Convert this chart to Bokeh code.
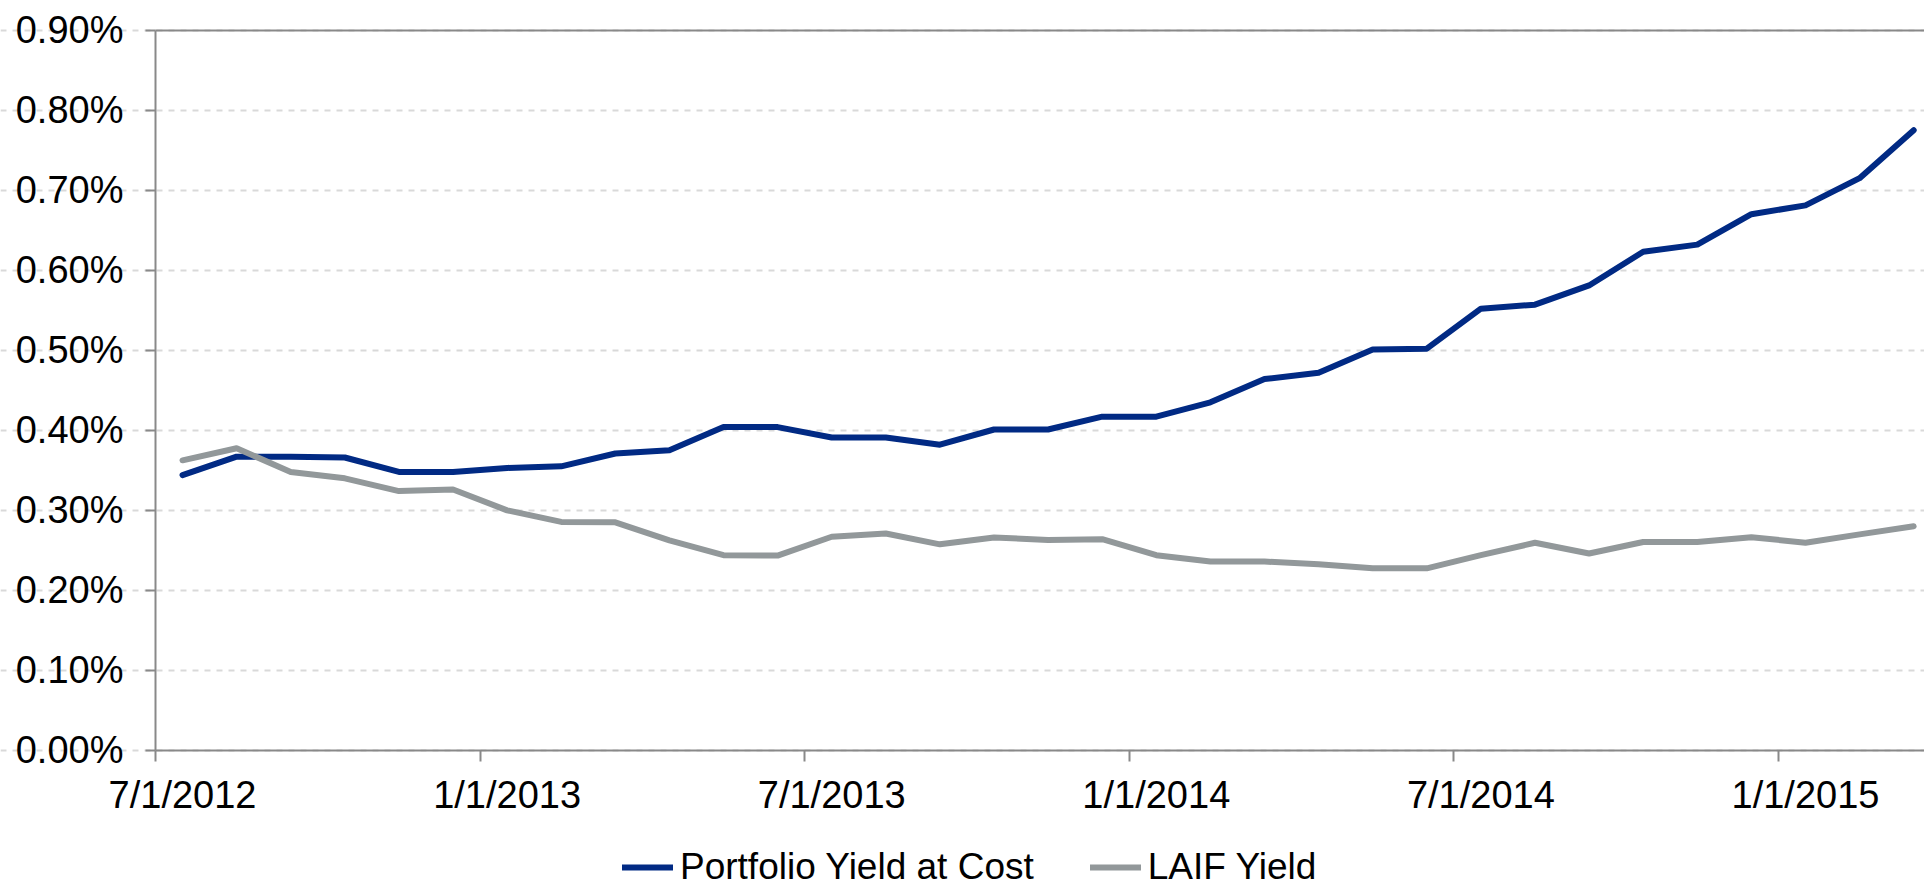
from bokeh.plotting import figure
from bokeh.models import (Range1d, FixedTicker, PrintfTickFormatter, LinearAxis,
                          Legend, LegendItem, ColumnDataSource)
from bokeh.embed import file_html
from bokeh.resources import INLINE

# ---- data (monthly, Jul 2012 .. Mar 2015), yields in percent ----
months = ["2012-07", "2012-08", "2012-09", "2012-10", "2012-11", "2012-12",
          "2013-01", "2013-02", "2013-03", "2013-04", "2013-05", "2013-06",
          "2013-07", "2013-08", "2013-09", "2013-10", "2013-11", "2013-12",
          "2014-01", "2014-02", "2014-03", "2014-04", "2014-05", "2014-06",
          "2014-07", "2014-08", "2014-09", "2014-10", "2014-11", "2014-12",
          "2015-01", "2015-02", "2015-03"]

portfolio_yield = [0.344, 0.367, 0.367, 0.366, 0.348, 0.348, 0.353, 0.355, 0.371,
                   0.375, 0.404, 0.404, 0.391, 0.391, 0.382, 0.401, 0.401, 0.417,
                   0.417, 0.435, 0.464, 0.472, 0.501, 0.502, 0.552, 0.557, 0.581,
                   0.623, 0.632, 0.670, 0.681, 0.715, 0.775]

laif_yield = [0.3625, 0.3775, 0.348, 0.340, 0.324, 0.326, 0.300, 0.2855, 0.285,
              0.2625, 0.244, 0.2435, 0.267, 0.271, 0.2575, 0.266, 0.263, 0.264,
              0.244, 0.236, 0.236, 0.2325, 0.2275, 0.2275, 0.244, 0.2595, 0.246,
              0.2605, 0.2605, 0.2665, 0.2595, 0.270, 0.280]

tick_months = ["2012-07", "2013-01", "2013-07", "2014-01", "2014-07", "2015-01"]
tick_labels = ["7/1/2012", "1/1/2013", "7/1/2013", "1/1/2014", "7/1/2014", "1/1/2015"]

y_ticks = [0.0, 0.1, 0.2, 0.3, 0.4, 0.5, 0.6, 0.7, 0.8, 0.9]

# ---- styling ----
BLUE = "#012A84"
GRAY = "#92989A"
AXIS = "#898989"
FONT = "Liberation Sans"
FS = "38px"

X_END = 32.70          # right edge of the plot area, in month slots
Y_TOP = 0.9            # top of the plot area (percent)

# month slots: a month's value sits at the middle of its slot
x_vals = [i + 0.5 for i in range(len(months))]
src = ColumnDataSource(dict(x=x_vals, port=portfolio_yield, laif=laif_yield))

# the frame covers the whole canvas; the axes are pinned at x = 0 and y = 0 so
# that their labels and the legend are drawn inside the frame
p = figure(width=1924, height=887, output_backend="svg", toolbar_location=None,
           x_range=Range1d(-2.865, X_END), y_range=Range1d(-0.17125, 0.937),
           min_border_left=0, min_border_right=0, min_border_top=0,
           min_border_bottom=0)
p.outline_line_color = None
p.background_fill_color = "white"
p.border_fill_color = "white"

r1 = p.line("x", "port", source=src, line_color=BLUE, line_width=6,
            line_join="round", line_cap="round")
r2 = p.line("x", "laif", source=src, line_color=GRAY, line_width=6,
            line_join="round", line_cap="round")

xa = p.xaxis[0]
ya = p.yaxis[0]

# x axis: tick marks at the start of each labelled month's slot ...
xt = [months.index(m) for m in tick_months]
xa.fixed_location = 0
xa.bounds = (0, X_END)
xa.ticker = FixedTicker(ticks=xt)
xa.major_label_text_color = None
xa.minor_tick_line_color = None
xa.major_tick_out = 11
xa.major_tick_in = 0

# y axis
ya.fixed_location = 0
ya.ticker = FixedTicker(ticks=y_ticks)
ya.bounds = (0, Y_TOP)
ya.formatter = PrintfTickFormatter(format="%.2f%%")
ya.minor_tick_line_color = None
ya.major_tick_out = 10
ya.major_tick_in = 0
ya.major_label_standoff = 22
ya.major_label_text_font = FONT
ya.major_label_text_font_size = FS
ya.major_label_text_color = "black"

for ax in (xa, ya):
    ax.axis_line_color = AXIS
    ax.axis_line_width = 2
    ax.major_tick_line_color = AXIS
    ax.major_tick_line_width = 2

# ... and the date labels centred on that month's slot
xl = [x_vals[i] for i in xt]
xlab = LinearAxis(fixed_location=0, ticker=FixedTicker(ticks=xl),
                  major_label_overrides={t: lab for t, lab in zip(xl, tick_labels)},
                  axis_line_color=None, major_tick_line_color=None,
                  minor_tick_line_color=None, major_tick_out=11, major_tick_in=0,
                  major_label_standoff=13, major_label_text_font=FONT,
                  major_label_text_font_size=FS, major_label_text_color="black")
p.add_layout(xlab, "below")

p.xgrid.grid_line_color = None
p.ygrid.ticker = FixedTicker(ticks=y_ticks)
p.ygrid.bounds = (0, X_END)
p.ygrid.grid_line_color = "#D9D9D9"
p.ygrid.grid_line_width = 2
p.ygrid.grid_line_dash = "6 6"

# top border of the plot area
top = LinearAxis(fixed_location=Y_TOP, ticker=FixedTicker(ticks=[]), bounds=(0, X_END),
                 axis_line_color=AXIS, axis_line_width=2,
                 major_tick_line_color=None, minor_tick_line_color=None,
                 major_label_text_color=None)
p.add_layout(top, "above")

legend = Legend(items=[LegendItem(label="Portfolio Yield at Cost", renderers=[r1]),
                       LegendItem(label="LAIF Yield", renderers=[r2])],
                orientation="horizontal", location=(622, -1),
                border_line_color=None, background_fill_alpha=0,
                padding=0, margin=0, spacing=56, glyph_width=51, glyph_height=40,
                label_height=40, label_standoff=7,
                label_text_font=FONT, label_text_font_size="37px",
                label_text_color="black")
p.add_layout(legend, "center")

open("out.html", "w").write(file_html(p, INLINE))
